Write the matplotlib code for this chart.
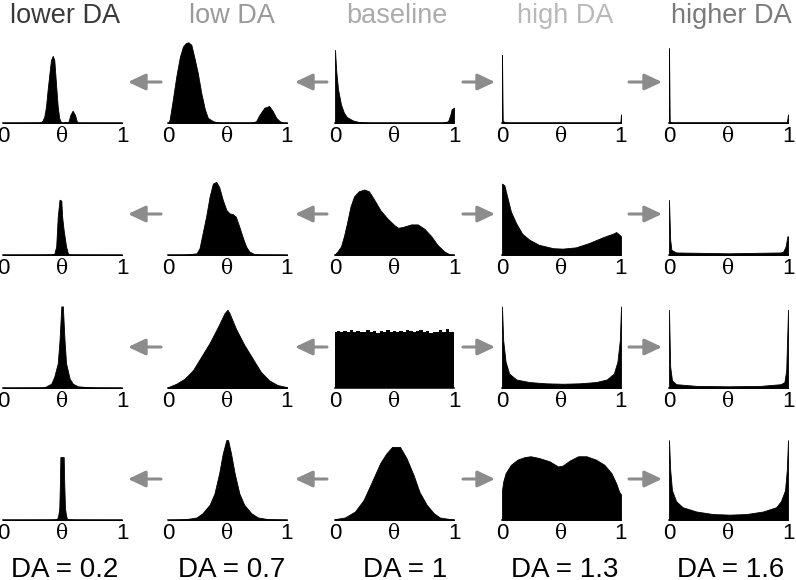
import numpy as np
import matplotlib.pyplot as plt

plt.rcParams['font.family'] = ['Liberation Sans', 'DejaVu Sans']

# column headers and DA values
titles = ["lower DA", "low DA", "baseline", "high DA", "higher DA"]
title_colors = ["#3a3a3a", "#9a9a9a", "#ababab", "#b8b8b8", "#7a7a7a"]
da_values = ["0.2", "0.7", "1", "1.3", "1.6"]

# distributions: (theta, density), heights in panel units
r1_lower = [(0, 0), (0.30, 0.005), (0.32, 0.01), (0.333, 0.03), (0.347, 0.075), (0.361, 0.19),
            (0.375, 0.39), (0.39, 0.58), (0.403, 0.74), (0.418, 0.79), (0.431, 0.74), (0.445, 0.47),
            (0.46, 0.19), (0.473, 0.055), (0.487, 0.01), (0.5, 0.005), (0.549, 0.01), (0.566, 0.095),
            (0.585, 0.145), (0.605, 0.095), (0.622, 0.01), (0.64, 0.003), (1, 0)]
r1_low = [(0, 0), (0.014, 0.04), (0.04, 0.27), (0.07, 0.55), (0.10, 0.78), (0.126, 0.90), (0.15, 0.94),
          (0.17, 0.95), (0.196, 0.92), (0.22, 0.78), (0.25, 0.59), (0.28, 0.35), (0.31, 0.16),
          (0.335, 0.06), (0.38, 0.02), (0.43, 0.005), (0.70, 0.005), (0.74, 0.02), (0.77, 0.10),
          (0.81, 0.18), (0.85, 0.20), (0.88, 0.14), (0.91, 0.06), (0.94, 0.02), (0.97, 0.005), (1, 0)]
r1_base = [(0, 0.86), (0.01, 0.62), (0.025, 0.40), (0.05, 0.22), (0.075, 0.12), (0.10, 0.07),
           (0.15, 0.03), (0.2, 0.012), (0.3, 0.003), (0.9, 0.003), (0.95, 0.02), (0.97, 0.10),
           (0.98, 0.16), (1.0, 0.18)]
r1_high = [(0, 0.80), (0.006, 0.03), (0.02, 0.01), (0.05, 0.003), (0.99, 0.003), (0.995, 0.02), (1.0, 0.1)]
r1_higher = [(0, 0.88), (0.006, 0.02), (0.02, 0.005), (0.99, 0.005), (1.0, 0.1)]

r2_lower = [(0, 0), (0.35, 0.004), (0.43, 0.01), (0.447, 0.10), (0.46, 0.45), (0.475, 0.65),
            (0.49, 0.64), (0.497, 0.45), (0.51, 0.29), (0.53, 0.10), (0.545, 0.02), (0.56, 0.005),
            (0.65, 0.003), (1, 0)]
r2_low = [(0, 0), (0.15, 0.005), (0.24, 0.02), (0.265, 0.08), (0.29, 0.25), (0.32, 0.45), (0.35, 0.69),
          (0.377, 0.84), (0.405, 0.86), (0.43, 0.80), (0.46, 0.65), (0.49, 0.53), (0.517, 0.49),
          (0.545, 0.48), (0.57, 0.45), (0.60, 0.33), (0.63, 0.20), (0.656, 0.10), (0.684, 0.04),
          (0.726, 0.01), (0.78, 0.005), (1, 0)]
r2_base = [(0, 0.01), (0.02, 0.04), (0.05, 0.10), (0.075, 0.22), (0.10, 0.37), (0.13, 0.57),
           (0.16, 0.69), (0.20, 0.75), (0.245, 0.77), (0.285, 0.75), (0.33, 0.65), (0.38, 0.53),
           (0.44, 0.43), (0.50, 0.35), (0.53, 0.32), (0.57, 0.33), (0.64, 0.36), (0.695, 0.36),
           (0.75, 0.31), (0.81, 0.22), (0.86, 0.12), (0.92, 0.04), (0.96, 0.01), (1, 0.0)]
r2_high = [(0, 0.84), (0.02, 0.82), (0.05, 0.65), (0.075, 0.51), (0.12, 0.37), (0.17, 0.25),
           (0.23, 0.18), (0.31, 0.12), (0.43, 0.08), (0.51, 0.075), (0.62, 0.09), (0.73, 0.14),
           (0.85, 0.21), (0.93, 0.25), (0.96, 0.27), (0.985, 0.24), (1.0, 0.22)]
r2_higher = [(0, 0.65), (0.01, 0.18), (0.02, 0.06), (0.06, 0.03), (0.5, 0.02), (0.94, 0.03),
             (0.96, 0.04), (0.98, 0.10), (0.995, 0.22), (1.0, 0.22)]

r3_lower = [(0, 0), (0.30, 0.004), (0.35, 0.01), (0.405, 0.05), (0.43, 0.13), (0.46, 0.29),
            (0.475, 0.56), (0.49, 0.96), (0.503, 0.96), (0.517, 0.56), (0.53, 0.29), (0.56, 0.11),
            (0.587, 0.05), (0.63, 0.02), (0.71, 0.01), (0.8, 0.004), (1, 0)]
r3_low = [(0, 0.01), (0.07, 0.05), (0.14, 0.11), (0.21, 0.21), (0.28, 0.37), (0.35, 0.53),
          (0.42, 0.72), (0.475, 0.88), (0.50, 0.92), (0.517, 0.88), (0.57, 0.70), (0.64, 0.51),
          (0.71, 0.35), (0.78, 0.19), (0.85, 0.09), (0.92, 0.035), (1.0, 0.01)]
r3_base_h = [0.655, 0.671, 0.663, 0.675, 0.655, 0.682, 0.663, 0.675, 0.655, 0.663, 0.682, 0.655,
             0.675, 0.651, 0.671, 0.663, 0.682, 0.655, 0.675, 0.663, 0.675, 0.655, 0.682, 0.671,
             0.655, 0.675, 0.686, 0.663, 0.671, 0.643, 0.663, 0.655, 0.682, 0.663, 0.690, 0.663, 0.663]
r3_base = list(zip(np.linspace(0, 1, len(r3_base_h)), r3_base_h))
r3_high = [(0, 0.96), (0.01, 0.56), (0.03, 0.31), (0.06, 0.17), (0.12, 0.10), (0.23, 0.07),
           (0.37, 0.055), (0.51, 0.05), (0.65, 0.055), (0.79, 0.07), (0.88, 0.10), (0.94, 0.17),
           (0.97, 0.31), (0.99, 0.56), (1.0, 0.96)]
r3_higher = [(0, 0.92), (0.01, 0.25), (0.025, 0.09), (0.06, 0.045), (0.23, 0.025), (0.5, 0.02),
             (0.77, 0.025), (0.94, 0.045), (0.97, 0.07), (0.985, 0.21), (1.0, 0.92)]

r4_lower = [(0, 0), (0.40, 0.003), (0.454, 0.01), (0.465, 0.06), (0.473, 0.14), (0.478, 0.41),
            (0.482, 0.74), (0.51, 0.74), (0.515, 0.41), (0.521, 0.14), (0.529, 0.06), (0.538, 0.01),
            (0.6, 0.003), (1, 0)]
r4_low = [(0, 0), (0.15, 0.01), (0.24, 0.03), (0.29, 0.08), (0.35, 0.18), (0.39, 0.31), (0.43, 0.55),
          (0.46, 0.78), (0.49, 0.94), (0.505, 0.94), (0.53, 0.78), (0.56, 0.55), (0.60, 0.31),
          (0.64, 0.18), (0.70, 0.08), (0.755, 0.03), (0.84, 0.01), (1, 0)]
r4_base = [(0, 0.01), (0.084, 0.03), (0.168, 0.10), (0.24, 0.235), (0.31, 0.45), (0.38, 0.67),
           (0.43, 0.78), (0.48, 0.86), (0.546, 0.86), (0.60, 0.73), (0.66, 0.53), (0.71, 0.33),
           (0.77, 0.18), (0.83, 0.08), (0.88, 0.03), (0.97, 0.01), (1.0, 0.005)]
r4_high = [(0, 0.35), (0.01, 0.45), (0.03, 0.55), (0.075, 0.65), (0.13, 0.71), (0.19, 0.74),
           (0.24, 0.75), (0.31, 0.73), (0.40, 0.69), (0.47, 0.63), (0.51, 0.64), (0.57, 0.70),
           (0.64, 0.75), (0.71, 0.75), (0.79, 0.71), (0.86, 0.65), (0.92, 0.55), (0.96, 0.43),
           (0.985, 0.33), (1.0, 0.30)]
r4_higher = [(0, 0.94), (0.01, 0.59), (0.025, 0.35), (0.06, 0.22), (0.115, 0.15), (0.23, 0.10),
             (0.37, 0.07), (0.51, 0.063), (0.65, 0.07), (0.79, 0.10), (0.90, 0.15), (0.94, 0.22),
             (0.975, 0.35), (0.99, 0.59), (1.0, 0.94)]

rows = [
    [r1_lower, r1_low, r1_base, r1_high, r1_higher],
    [r2_lower, r2_low, r2_base, r2_high, r2_higher],
    [r3_lower, r3_low, r3_base, r3_high, r3_higher],
    [r4_lower, r4_low, r4_base, r4_high, r4_higher],
]

W, H = 796, 580
fig = plt.figure(figsize=(W / 100, H / 100), dpi=100)

col_left = [3, 168, 335, 502, 669]   # px
row_base = [123, 255, 388, 520]      # px, axis baseline
pw, ph = 119, 85

for i, row in enumerate(rows):
    for j, dist in enumerate(row):
        ax = fig.add_axes([col_left[j] / W, 1 - row_base[i] / H, pw / W, ph / H])
        t = np.array([p[0] for p in dist])
        h = np.array([p[1] for p in dist])
        if i == 2 and j == 2:
            ax.fill_between(t, h, step='mid', color='black', lw=0)
        else:
            ax.fill_between(t, h, color='black', lw=0.6, edgecolor='black')
        ax.set_xlim(0, 1)
        ax.set_ylim(0, 1)
        for s in ['top', 'left', 'right']:
            ax.spines[s].set_visible(False)
        ax.spines['bottom'].set_linewidth(1.1)
        ax.set_yticks([])
        ax.set_xticks([0, 1], ['0', '1'])
        ax.tick_params(axis='x', length=0, pad=2.5, labelsize=16)
        ax.text(0.5, -0.222, 'θ', transform=ax.transAxes, ha='center', va='baseline',
                fontsize=14.5, family=['DejaVu Serif'])
        ax.patch.set_alpha(0)

# column titles and DA labels
title_x = [65, 232, 397, 565, 731]
label_x = [65, 232, 405, 565, 731]
for j in range(5):
    fig.text(title_x[j] / W, 1 - 23 / H, titles[j], color=title_colors[j],
             ha='center', va='baseline', fontsize=19.5)
    fig.text(label_x[j] / W, 1 - 577 / H, "DA = " + da_values[j],
             ha='center', va='baseline', fontsize=20)

# grey arrows between columns
arrow_x = [(161, 128), (327, 295), (463, 495), (629, 662)]
for i in range(4):
    y = H - (row_base[i] - 41)
    for x_from, x_to in arrow_x:
        fig.add_artist(plt.matplotlib.patches.FancyArrowPatch(
            (x_from / W, y / H), (x_to / W, y / H), transform=fig.transFigure,
            arrowstyle='-|>,head_length=0.7,head_width=0.33', mutation_scale=15,
            color='#8c8c8c', lw=2.2, shrinkA=0, shrinkB=0))

fig.savefig('out.png', dpi=100)
